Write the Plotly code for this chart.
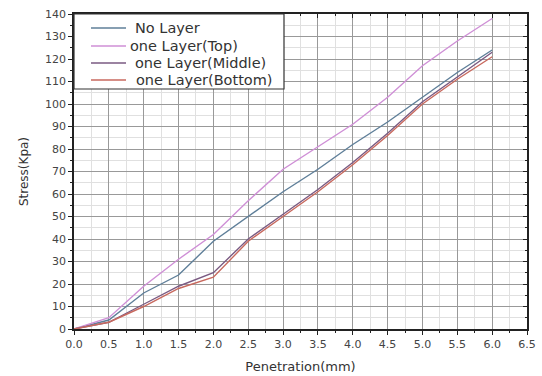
import plotly.graph_objects as go

penetration = [0.0, 0.5, 1.0, 1.5, 2.0, 2.5, 3.0, 3.5, 4.0, 4.5, 5.0, 5.5, 6.0]
no_layer = [0, 4, 16, 24, 39, 50, 61, 71, 82, 92, 103, 114, 124]
top_layer = [0, 5, 19, 31, 42, 57, 71, 81, 91, 103, 117, 128, 138]
middle_layer = [0, 3, 11, 19, 25, 40, 51, 62, 74, 87, 101, 112, 123]
bottom_layer = [0, 3, 10, 18, 23, 39, 50, 61, 73, 86, 100, 111, 121]

series = [
    ("No Layer", no_layer, "#5f7f99"),
    ("one Layer(Top)", top_layer, "#cf8fd6"),
    ("one Layer(Middle)", middle_layer, "#7a5a82"),
    ("one Layer(Bottom)", bottom_layer, "#c8695e"),
]

W, H = 542, 376
ML, MR, MT, MB = 74, 15, 14, 47
PW, PH = W - ML - MR, H - MT - MB
FONT = "DejaVu Sans, Liberation Sans, Arial"

def px_x(p):
    return (p - ML) / PW

def px_y(p):
    return (H - MB - p) / PH

fig = go.Figure()
for name, vals, col in series:
    fig.add_trace(go.Scatter(x=penetration, y=vals, mode="lines", name=name,
                             line=dict(color=col, width=1.4), showlegend=False))

# dummy trace to activate mirrored top/right axes
fig.add_trace(go.Scatter(x=[None], y=[None], xaxis="x2", yaxis="y2",
                         showlegend=False, hoverinfo="skip"))

tickfont = dict(family=FONT, size=11, color="#444")

shapes = [dict(type="rect", xref="paper", yref="paper",
               x0=0, x1=px_x(284), y0=px_y(89), y1=1,
               fillcolor="white", line=dict(color="#333", width=1.2), layer="above")]
annotations = []
row_y = [28, 46, 63, 80]
text_x = [133, 128, 133, 134]
for (name, vals, col), ry, tx in zip(series, row_y, text_x):
    shapes.append(dict(type="line", xref="paper", yref="paper",
                       x0=px_x(91), x1=px_x(126), y0=px_y(ry), y1=px_y(ry),
                       line=dict(color=col, width=1.4), layer="above"))
    annotations.append(dict(xref="paper", yref="paper", x=px_x(tx), y=px_y(ry),
                            xanchor="left", yanchor="middle", showarrow=False,
                            text=name, font=dict(family=FONT, size=14.5, color="#333")))

fig.update_layout(
    width=W, height=H,
    margin=dict(l=ML, r=MR, t=MT, b=MB, autoexpand=False),
    paper_bgcolor="white", plot_bgcolor="white",
    font=dict(family=FONT, color="#222"),
    xaxis=dict(range=[0, 6.5], dtick=0.5, tick0=0, tickformat=".1f",
               automargin=False,
               showgrid=True, gridcolor="#999", gridwidth=1,
               minor=dict(dtick=0.25, showgrid=True, gridcolor="#e0e0e0",
                          ticks="outside", ticklen=2, tickcolor="#222"),
               ticks="outside", ticklen=4, tickcolor="#222",
               showline=True, linecolor="#222", linewidth=1.5,
               zeroline=False, tickfont=tickfont,
               title=dict(text="Penetration(mm)", font=dict(size=13, color="#333"), standoff=12)),
    yaxis=dict(range=[0, 140], dtick=10, tick0=0,
               automargin=False,
               showgrid=True, gridcolor="#999", gridwidth=1,
               minor=dict(dtick=5, showgrid=True, gridcolor="#e0e0e0",
                          ticks="outside", ticklen=2, tickcolor="#222"),
               ticks="outside", ticklen=4, tickcolor="#222",
               showline=True, linecolor="#222", linewidth=1.5,
               zeroline=False, tickfont=tickfont,
               title=dict(text="Stress(Kpa)", font=dict(size=12, color="#333"), standoff=14)),
    xaxis2=dict(overlaying="x", side="top", range=[0, 6.5], dtick=0.5, tick0=0,
                automargin=False,
                showticklabels=False, showgrid=False, zeroline=False,
                ticks="inside", ticklen=4, tickcolor="#222",
                minor=dict(dtick=0.25, ticks="inside", ticklen=2, tickcolor="#222"),
                showline=True, linecolor="#222", linewidth=1.5),
    yaxis2=dict(overlaying="y", side="right", range=[0, 140], dtick=10, tick0=0,
                automargin=False,
                showticklabels=False, showgrid=False, zeroline=False,
                ticks="inside", ticklen=4, tickcolor="#222",
                minor=dict(dtick=5, ticks="inside", ticklen=2, tickcolor="#222"),
                showline=True, linecolor="#222", linewidth=1.5),
    shapes=shapes,
    annotations=annotations,
    showlegend=False,
)

fig.write_html("out.html")
